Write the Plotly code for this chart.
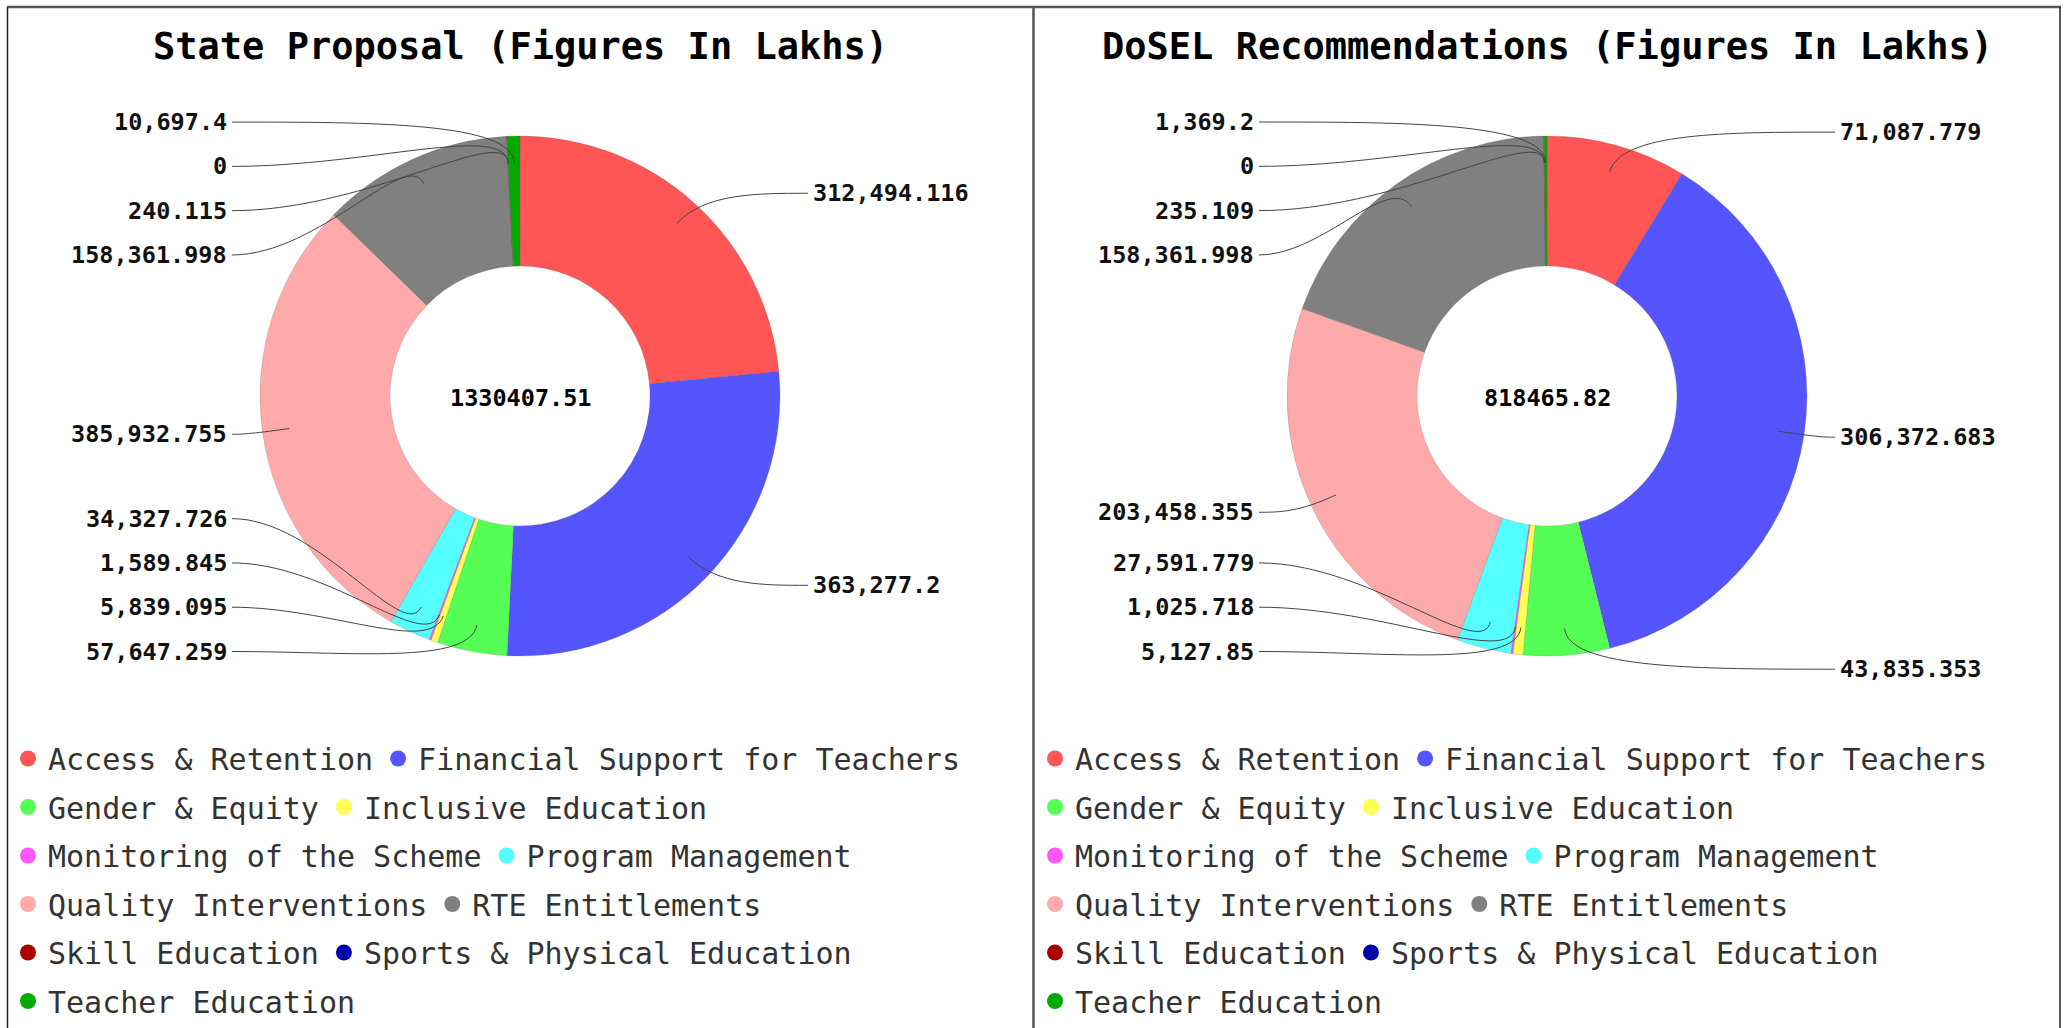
import math
import plotly.graph_objects as go

W, H = 2065, 1028

categories = [
    "Access & Retention", "Financial Support for Teachers", "Gender & Equity",
    "Inclusive Education", "Monitoring of the Scheme", "Program Management",
    "Quality Interventions", "RTE Entitlements", "Skill Education",
    "Sports & Physical Education", "Teacher Education",
]
state_proposal = [312494.116, 363277.2, 57647.259, 5839.095, 1589.845, 34327.726,
                  385932.755, 158361.998, 240.115, 0, 10697.4]
dosel_recommendations = [71087.779, 306372.683, 43835.353, 5127.85, 1025.718, 27591.779,
                         203458.355, 158361.998, 235.109, 0, 1369.2]
colors = ["#ff5555", "#5555ff", "#55ff55", "#ffff55", "#ff55ff", "#55ffff",
          "#ffaaaa", "#808080", "#aa0000", "#0000aa", "#00aa00"]
titles = ["State Proposal (Figures In Lakhs)", "DoSEL Recommendations (Figures In Lakhs)"]
series = [state_proposal, dosel_recommendations]

# ---- layout constants (pixels) ----
MONO = "DejaVu Sans Mono"
panel_left = [8, 1035]
centers_x = [520, 1547]
CY = 396
R = 260
HOLE = 0.5
R_LINE_START = 233
R_LABEL = 274
LABEL_DX = 292
LINE_DX = 288
LABEL_GAP = 44.3
BOTTOM_BOUND = CY + 255.5
LEGEND_ROW0 = 758.5
LEGEND_ROW_STEP = 48.5
LEGEND_CHAR_W = 18.06


def px(x):
    return x / W


def py(y):
    return 1 - y / H


def fmt(v):
    return f"{v:,.3f}".rstrip("0").rstrip(".")


fig = go.Figure()
annotations = []
shapes = []

for k, (vals, title) in enumerate(zip(series, titles)):
    cx = centers_x[k]
    fig.add_trace(go.Pie(
        labels=categories, values=vals, sort=False, direction="clockwise",
        rotation=0, hole=HOLE, textinfo="none", showlegend=False,
        marker=dict(colors=colors, line=dict(color="rgba(90,90,90,0.4)", width=0.5)),
        domain=dict(x=[px(cx - R), px(cx + R)], y=[py(CY + R), py(CY - R)]),
        hoverinfo="label+value+percent",
    ))
    total = sum(vals)
    annotations.append(dict(
        text=title, x=px(cx), y=py(47), xref="paper", yref="paper",
        xanchor="center", yanchor="middle", showarrow=False,
        font=dict(family=MONO, size=37, color="#000", weight="bold")))
    annotations.append(dict(
        text=f"{total:.2f}", x=px(cx), y=py(CY + 2), xref="paper", yref="paper",
        xanchor="center", yanchor="middle", showarrow=False,
        font=dict(family=MONO, size=23.5, color="#000", weight="bold")))

    # outside labels with leader lines
    items = []
    cum = 0.0
    for i, v in enumerate(vals):
        mid = (cum + v / 2) / total
        cum += v
        th = 2 * math.pi * mid
        s, c = math.sin(th), math.cos(th)
        items.append(dict(
            i=i, side=1 if s >= 0 else -1,
            p0=(cx + R_LINE_START * s, CY - R_LINE_START * c),
            p1=(cx + R_LABEL * s, CY - R_LABEL * c),
            y=CY - R_LABEL * c, shifted=False))
    for side in (1, -1):
        lst = sorted([it for it in items if it["side"] == side], key=lambda d: d["y"])
        last = -1e9
        for it in lst:
            if it["y"] < last + LABEL_GAP:
                it["y"] = last + LABEL_GAP
                it["shifted"] = True
            last = it["y"]
        if lst and lst[-1]["y"] > BOTTOM_BOUND and lst[-1]["shifted"]:
            limit = BOTTOM_BOUND
            for it in reversed(lst):
                if it["y"] > limit:
                    it["y"] = limit
                    limit -= LABEL_GAP
                else:
                    break
        for it in lst:
            lx = cx + side * LABEL_DX
            ex = cx + side * LINE_DX
            ly = it["y"]
            annotations.append(dict(
                text=fmt(vals[it["i"]]), x=px(lx), y=py(ly), xref="paper", yref="paper",
                xanchor="left" if side == 1 else "right", yanchor="middle",
                showarrow=False, borderpad=0,
                font=dict(family=MONO, size=23.5, color="#111", weight="bold")))
            p0, p1 = it["p0"], it["p1"]
            c1 = ((ex + p1[0]) / 2, ly)
            path = (f"M {px(ex)},{py(ly)} C {px(c1[0])},{py(c1[1])} "
                    f"{px(p1[0])},{py(p1[1])} {px(p0[0])},{py(p0[1])}")
            shapes.append(dict(type="path", path=path, xref="paper", yref="paper",
                               line=dict(color="#444", width=1)))

# ---- legends: flow layout per panel, one plotly legend per row ----
legend_layouts = {}
legend_count = 0
for k in range(2):
    rows = []
    cur, cur_w = [], 0
    for i, name in enumerate(categories):
        w = 45 + len(name) * LEGEND_CHAR_W
        if cur and cur_w + w > 1010:
            rows.append(cur)
            cur, cur_w = [], 0
        cur.append(i)
        cur_w += w
    if cur:
        rows.append(cur)
    for r_i, row in enumerate(rows):
        legend_count += 1
        lid = "legend" if legend_count == 1 else f"legend{legend_count}"
        legend_layouts[lid] = dict(
            x=px(panel_left[k]), xanchor="left",
            y=py(LEGEND_ROW0 + r_i * LEGEND_ROW_STEP), yanchor="middle",
            orientation="h", bgcolor="rgba(0,0,0,0)", borderwidth=0,
            font=dict(family=MONO, size=30, color="#333"),
            itemclick=False, itemdoubleclick=False)
        for i in row:
            fig.add_trace(go.Scatter(
                x=[None], y=[None], mode="markers", name=categories[i],
                marker=dict(color=colors[i], size=16, symbol="circle"),
                legend=lid, showlegend=True, hoverinfo="skip"))

# ---- panel borders ----
shapes += [
    dict(type="line", xref="paper", yref="paper", x0=px(7), x1=px(2061), y0=py(7), y1=py(7),
         line=dict(color="#555", width=2.5)),
    dict(type="line", xref="paper", yref="paper", x0=px(7.5), x1=px(7.5), y0=py(7), y1=py(H),
         line=dict(color="#222", width=1.5)),
    dict(type="line", xref="paper", yref="paper", x0=px(2060), x1=px(2060), y0=py(7), y1=py(H),
         line=dict(color="#222", width=1.5)),
    dict(type="line", xref="paper", yref="paper", x0=px(1033.5), x1=px(1033.5), y0=py(7), y1=py(H),
         line=dict(color="#555", width=2.5)),
]

fig.update_layout(
    width=W, height=H, margin=dict(l=0, r=0, t=0, b=0),
    paper_bgcolor="white", plot_bgcolor="white",
    xaxis=dict(visible=False), yaxis=dict(visible=False),
    annotations=annotations, shapes=shapes, **legend_layouts,
)

fig.write_html("out.html", config={"displayModeBar": False},
               post_script="document.body.style.margin='0';document.body.style.overflow='hidden';")
